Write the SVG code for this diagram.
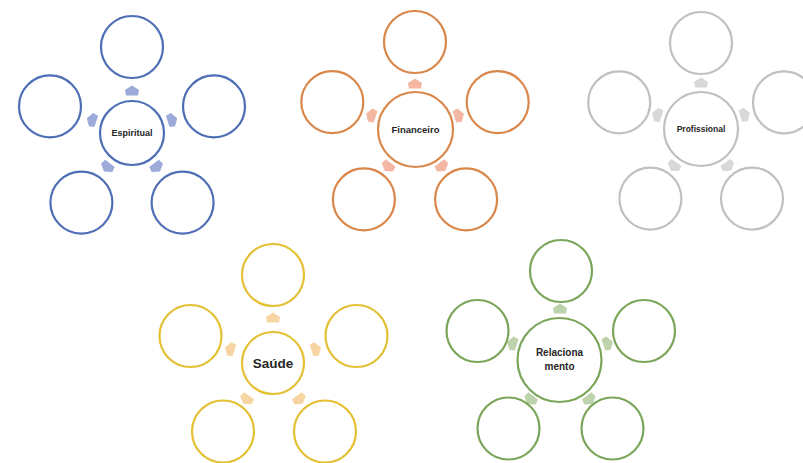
<svg xmlns="http://www.w3.org/2000/svg" xmlns:xlink="http://www.w3.org/1999/xlink" width="803" height="463" viewBox="0 0 803 463">
<style>
.c{fill:#fff;stroke-width:2.2}
.b{stroke:#4E6FB5}.o{stroke:#D9874A}.g{stroke:#C0C0C0}.y{stroke:#E4C035}.gr{stroke:#7BA65A}
.ab{fill:#9DABDB}.ao{fill:#F3B7A3}.ag{fill:#D8D8D8}.ay{fill:#F7D5A2}.agr{fill:#BCD3AC}
text{font-family:"Liberation Sans",Arial,sans-serif;font-weight:bold;fill:#262626;text-anchor:middle;dominant-baseline:central}
</style>
<defs>
<path id="arr" d="M0,-5.5 L7,-1 L6,4.5 L-6,4.5 L-7,-1 Z"/>
</defs>
<rect width="803" height="463" fill="#fff"/>

<g id="connectors">
 <g class="ab">
  <use xlink:href="#arr" transform="translate(132,91)"/>
  <use xlink:href="#arr" transform="translate(172,120) rotate(72)"/>
  <use xlink:href="#arr" transform="translate(156.7,167) rotate(144)"/>
  <use xlink:href="#arr" transform="translate(107.3,167) rotate(216)"/>
  <use xlink:href="#arr" transform="translate(92,120) rotate(288)"/>
 </g>
 <g class="ao">
  <use xlink:href="#arr" transform="translate(415,84)"/>
  <use xlink:href="#arr" transform="translate(458.7,115.5) rotate(72)"/>
  <use xlink:href="#arr" transform="translate(442,166.5) rotate(144)"/>
  <use xlink:href="#arr" transform="translate(388,166.5) rotate(216)"/>
  <use xlink:href="#arr" transform="translate(371.3,115.5) rotate(288)"/>
 </g>
 <g class="ag">
  <use xlink:href="#arr" transform="translate(701,83)"/>
  <use xlink:href="#arr" transform="translate(744.7,114.8) rotate(72)"/>
  <use xlink:href="#arr" transform="translate(728,166.2) rotate(144)"/>
  <use xlink:href="#arr" transform="translate(674,166.2) rotate(216)"/>
  <use xlink:href="#arr" transform="translate(657.3,114.8) rotate(288)"/>
 </g>
 <g class="ay">
  <use xlink:href="#arr" transform="translate(273,318)"/>
  <use xlink:href="#arr" transform="translate(315.8,349.1) rotate(72)"/>
  <use xlink:href="#arr" transform="translate(299.5,399.4) rotate(144)"/>
  <use xlink:href="#arr" transform="translate(246.5,399.4) rotate(216)"/>
  <use xlink:href="#arr" transform="translate(230.2,349.1) rotate(288)"/>
 </g>
 <g class="agr">
  <use xlink:href="#arr" transform="translate(560,309)"/>
  <use xlink:href="#arr" transform="translate(607.6,343.5) rotate(72)"/>
  <use xlink:href="#arr" transform="translate(589.4,399.5) rotate(144)"/>
  <use xlink:href="#arr" transform="translate(530.6,399.5) rotate(216)"/>
  <use xlink:href="#arr" transform="translate(512.4,343.5) rotate(288)"/>
 </g>
</g>

<!-- Espiritual -->
<g id="espiritual"><circle class="c b" cx="132" cy="133" r="32"/><text x="132" y="133" font-size="9">Espiritual</text></g>
<g id="espiritual-1"><circle class="c b" cx="132" cy="47" r="31"/></g>
<g id="espiritual-2"><circle class="c b" cx="214" cy="106.4" r="31"/></g>
<g id="espiritual-3"><circle class="c b" cx="182.6" cy="202.6" r="31"/></g>
<g id="espiritual-4"><circle class="c b" cx="81.4" cy="202.6" r="31"/></g>
<g id="espiritual-5"><circle class="c b" cx="50" cy="106.4" r="31"/></g>

<!-- Financeiro -->
<g id="financeiro"><circle class="c o" cx="415.5" cy="129.5" r="37.5"/><text x="415.5" y="129.5" font-size="9.5">Financeiro</text></g>
<g id="financeiro-1"><circle class="c o" cx="415" cy="42" r="31"/></g>
<g id="financeiro-2"><circle class="c o" cx="497.7" cy="102.1" r="31"/></g>
<g id="financeiro-3"><circle class="c o" cx="466.1" cy="199.4" r="31"/></g>
<g id="financeiro-4"><circle class="c o" cx="363.9" cy="199.4" r="31"/></g>
<g id="financeiro-5"><circle class="c o" cx="332.3" cy="102.1" r="31"/></g>

<!-- Profissional -->
<g id="profissional"><circle class="c g" cx="701" cy="129" r="37"/><text x="701" y="129" font-size="8.5">Profissional</text></g>
<g id="profissional-1"><circle class="c g" cx="701" cy="43" r="31"/></g>
<g id="profissional-2"><circle class="c g" cx="784" cy="102.4" r="31"/></g>
<g id="profissional-3"><circle class="c g" cx="752" cy="198.6" r="31"/></g>
<g id="profissional-4"><circle class="c g" cx="650.4" cy="198.6" r="31"/></g>
<g id="profissional-5"><circle class="c g" cx="619.2" cy="102.4" r="31"/></g>

<!-- Saude -->
<g id="saude"><circle class="c y" cx="273" cy="363" r="31"/><text x="273" y="363" font-size="13.5">Saúde</text></g>
<g id="saude-1"><circle class="c y" cx="273" cy="275" r="31"/></g>
<g id="saude-2"><circle class="c y" cx="356.5" cy="336" r="31"/></g>
<g id="saude-3"><circle class="c y" cx="325" cy="431.5" r="31"/></g>
<g id="saude-4"><circle class="c y" cx="223" cy="431.5" r="31"/></g>
<g id="saude-5"><circle class="c y" cx="190.5" cy="336" r="31"/></g>

<!-- Relacionamento -->
<g id="relacionamento"><circle class="c gr" cx="559.5" cy="360" r="42"/><text x="559.5" y="352.5" font-size="10">Relaciona</text><text x="559.5" y="366.5" font-size="10">mento</text></g>
<g id="relacionamento-1"><circle class="c gr" cx="561" cy="271" r="31"/></g>
<g id="relacionamento-2"><circle class="c gr" cx="644" cy="331" r="31"/></g>
<g id="relacionamento-3"><circle class="c gr" cx="612.5" cy="428.5" r="31"/></g>
<g id="relacionamento-4"><circle class="c gr" cx="508.5" cy="428.5" r="31"/></g>
<g id="relacionamento-5"><circle class="c gr" cx="477.5" cy="331" r="31"/></g>
</svg>
